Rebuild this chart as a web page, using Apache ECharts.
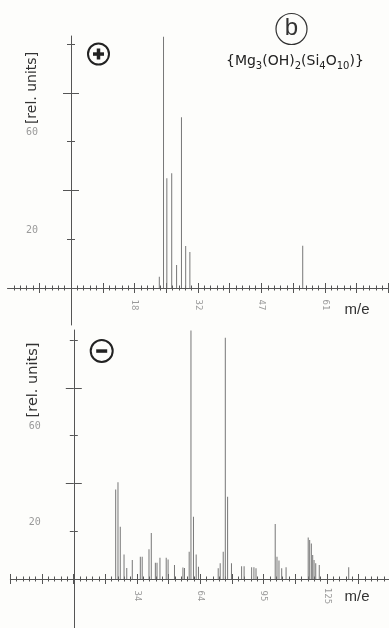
<!DOCTYPE html>
<html><head><meta charset="utf-8">
<script src="https://cdn.jsdelivr.net/npm/echarts@6/dist/echarts.min.js"></script>
<style>html,body{margin:0;padding:0;background:#fdfdfb}#c{width:389px;height:628px}</style>
</head><body><div id="c"></div>
<script>
// ---- data ----
const posMz  = [23.6, 24.55, 25.3, 26.4, 27.5, 28.6, 29.55, 30.5, 55.97];
const posInt = [4.6, 103, 45, 47, 9.4, 70, 17.2, 14.8, 17.3];
const negMz  = [23.8,24.9,26.0,27.8,29.1,31.75,35.6,36.5,39.75,40.85,42.8,43.6,45.0,48.0,48.9,51.96,56.0,56.75,59.0,59.85,61.05,62.35,63.45,72.9,73.85,75.3,76.3,77.4,79.25,84.1,85.3,88.9,90.0,91.0,100.2,101.05,102.0,103.3,105.4,116.0,116.7,117.5,118.15,118.8,119.6,121.3,135.4];
const negInt = [37.5,40.5,21.9,10.3,4.6,7.9,9.3,9.3,12.4,19.2,6.8,6.8,8.9,8.9,8.2,5.9,4.8,4.6,11.4,104,26,10.3,5.1,4.5,6.6,11.4,101,34.4,6.6,5.3,5.3,4.9,4.9,4.5,23,9.3,7.7,4.5,4.9,17.4,16.3,14.9,10,7.9,6.6,5.9,4.9];
const posXLabels = ['18','32','47','61'];
const negXLabels = ['34','64','95','125'];
const yLabels = ['20','60'];
const yShortTicks = [20, 60, 100];
const yLongTicks = [40, 80];

// ---- helpers ----
function ticks(min, max, step) { const a = []; for (let i = 0; min + i * step <= max + 1e-6; i++) a.push(+(min + i * step).toFixed(5)); return a; }
function labelVals(labels) {
  const first = +labels[0], last = +labels[labels.length - 1];
  const d = (last - first) / (labels.length - 1);
  return labels.map((_, i) => +(first + i * d).toFixed(5));
}
const AX = '#555', LB = '#9a9a9a';
function makeX(gi, labels, width, majorPx) {
  const vals = labelVals(labels);
  const step = (vals[1] - vals[0]) / 2;
  const min = vals[0] - 4 * step;
  const max = min + width / majorPx * step;
  const majors = ticks(min, max, step), minors = ticks(min, max, step / 5);
  const base = { type: 'value', gridIndex: gi, min, max, position: 'bottom', splitLine: { show: false },
    axisLine: { show: false, onZero: false }, axisLabel: { show: false }, axisTick: { show: false } };
  return [
    Object.assign({}, base, {
      axisLine: { show: true, onZero: false, lineStyle: { color: AX, width: 1 } },
      axisTick: { show: true, customValues: minors, length: 2.5, lineStyle: { color: AX, width: 1 } },
      axisLabel: { show: true, customValues: vals, rotate: -90, align: 'center', verticalAlign: 'middle', margin: 17,
        color: LB, fontSize: 9, fontFamily: 'DejaVu Sans Mono',
        formatter: v => { let b = 0; vals.forEach((x, i) => { if (Math.abs(x - v) < Math.abs(vals[b] - v)) b = i; }); return labels[b]; } }
    }),
    Object.assign({}, base, { axisTick: { show: true, inside: true, customValues: minors, length: 2.5, lineStyle: { color: AX, width: 1 } } }),
    Object.assign({}, base, { axisTick: { show: true, customValues: majors, length: 5, lineStyle: { color: AX, width: 1 } } }),
    Object.assign({}, base, { axisTick: { show: true, inside: true, customValues: majors, length: 5, lineStyle: { color: AX, width: 1 } } })
  ];
}
function makeY(gi, min, max) {
  const base = { type: 'value', gridIndex: gi, min, max, position: 'left', offset: -63.5, splitLine: { show: false },
    axisLine: { show: false, onZero: false }, axisLabel: { show: false }, axisTick: { show: false } };
  return [
    Object.assign({}, base, {
      axisLine: { show: true, onZero: false, lineStyle: { color: AX, width: 1 } },
      axisTick: { show: true, customValues: yShortTicks, length: 4, lineStyle: { color: AX } },
      axisLabel: { show: true, customValues: yLabels.map(Number), margin: 33, color: LB, fontSize: 10,
        fontFamily: 'DejaVu Sans Mono', verticalAlign: 'bottom', padding: [0, 0, 4, 0] }
    }),
    Object.assign({}, base, { axisTick: { show: true, inside: true, customValues: yShortTicks, length: 4, lineStyle: { color: AX } } }),
    Object.assign({}, base, { axisTick: { show: true, customValues: yLongTicks, length: 8, lineStyle: { color: AX } } }),
    Object.assign({}, base, { axisTick: { show: true, inside: true, customValues: yLongTicks, length: 8, lineStyle: { color: AX } } })
  ];
}
// y-axis line continuing below the m/e axis
function extX(gi) { return { type: 'value', gridIndex: gi, min: 0, max: 1, show: false }; }
function extY(gi) { return { type: 'value', gridIndex: gi, min: 0, max: 1, position: 'left', offset: -63.5,
  splitLine: { show: false }, axisTick: { show: false }, axisLabel: { show: false },
  axisLine: { show: true, onZero: false, lineStyle: { color: AX, width: 1 } } }; }

const chart = echarts.init(document.getElementById('c'), null, { renderer: 'canvas' });
const txt = (x, y, text, size, extra) => Object.assign({ type: 'text', x, y, style: Object.assign({ text, fontSize: size,
  fontFamily: 'Liberation Sans', fill: '#2a2a2a', align: 'center', verticalAlign: 'middle' }, extra || {}) });
chart.setOption({
  animation: false,
  backgroundColor: '#fdfdfb',
  grid: [
    { left: 7.5, top: 36, width: 381.5, height: 252, outerBoundsMode: 'none' },
    { left: 10.3, top: 330, width: 378.7, height: 249, outerBoundsMode: 'none' },
    { left: 7.5, top: 288, width: 381.5, height: 37, outerBoundsMode: 'none' },
    { left: 10.3, top: 579, width: 378.7, height: 49, outerBoundsMode: 'none' }
  ],
  xAxis: [].concat(makeX(0, posXLabels, 381.5, 31.75), makeX(1, negXLabels, 378.7, 31.67), [extX(2), extX(3)]),
  yAxis: [].concat(makeY(0, 0, 103.3), makeY(1, 0, 104.2), [extY(2), extY(3)]),
  series: [
    { type: 'bar', xAxisIndex: 0, yAxisIndex: 0, barWidth: 1, itemStyle: { color: '#777' },
      data: posMz.map((m, i) => [m, posInt[i]]) },
    { type: 'bar', xAxisIndex: 4, yAxisIndex: 4, barWidth: 1, itemStyle: { color: '#777' },
      data: negMz.map((m, i) => [m, negInt[i]]) }
  ],
  graphic: [
    // circled plus
    { type: 'circle', shape: { cx: 98.5, cy: 54, r: 10.5 }, style: { fill: 'none', stroke: '#222', lineWidth: 2 } },
    { type: 'rect', shape: { x: 93, y: 52.3, width: 11, height: 3.5 }, style: { fill: '#222' } },
    { type: 'rect', shape: { x: 96.75, y: 48.5, width: 3.5, height: 11 }, style: { fill: '#222' } },
    // circled minus
    { type: 'circle', shape: { cx: 101.7, cy: 351, r: 11 }, style: { fill: 'none', stroke: '#222', lineWidth: 2 } },
    { type: 'rect', shape: { x: 96.2, y: 349.3, width: 11, height: 3.5 }, style: { fill: '#222' } },
    // circled b
    { type: 'circle', shape: { cx: 291.5, cy: 29, r: 15.5 }, style: { fill: 'none', stroke: '#333', lineWidth: 1.2 } },
    txt(291.5, 28, 'b', 24, { fill: '#333' }),
    // formula
    { type: 'text', x: 226, y: 61, style: { text: '{n|{Mg}{s|3}{n|(OH)}{s|2}{n|(Si}{s|4}{n|O}{s|10}{n|)}}',
      fontSize: 14, fontFamily: 'DejaVu Sans', fill: '#222', align: 'left', verticalAlign: 'middle', lineHeight: 20,
      rich: { n: { fontSize: 14, fontFamily: 'DejaVu Sans', fill: '#222', lineHeight: 20, verticalAlign: 'middle' },
              s: { fontSize: 10, fontFamily: 'DejaVu Sans', fill: '#222', lineHeight: 20, verticalAlign: 'bottom' } } } },
    // y axis names
    Object.assign(txt(32, 88, '[rel. units]', 14, { fill: '#333', fontFamily: 'DejaVu Sans' }), { rotation: Math.PI / 2 }),
    Object.assign(txt(33, 380, '[rel. units]', 14.5, { fill: '#333', fontFamily: 'DejaVu Sans' }), { rotation: Math.PI / 2 }),
    // m/e
    txt(357, 310, 'm/e', 15, { fill: '#333' }),
    txt(357, 597, 'm/e', 15, { fill: '#333' })
  ]
});
</script>
</body></html>
